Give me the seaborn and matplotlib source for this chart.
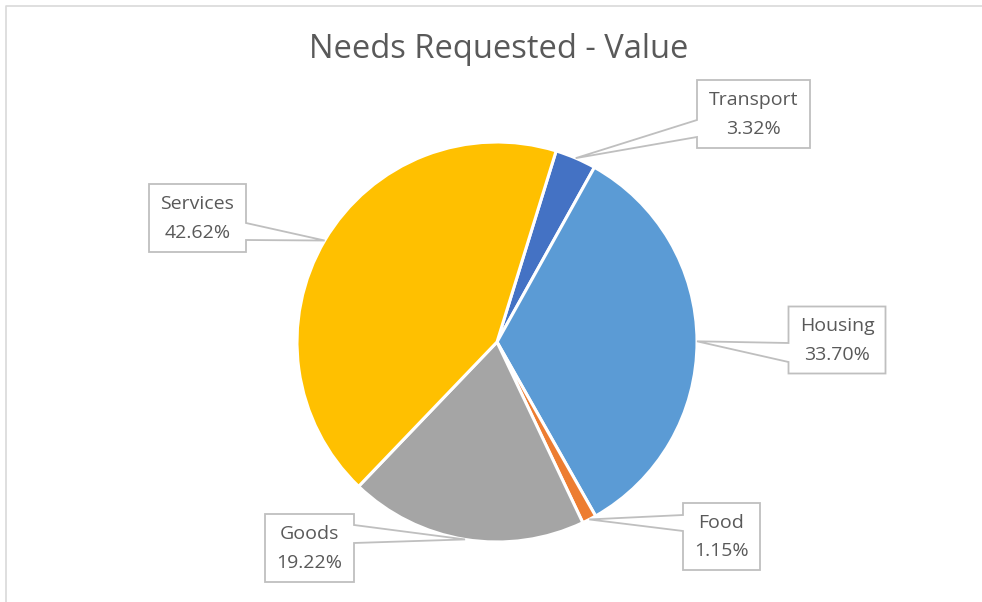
import numpy as np
import matplotlib
matplotlib.use("Agg")
import matplotlib.pyplot as plt
import seaborn as sns
from matplotlib.patches import Polygon

# data (clockwise from the top of the pie)
needs = ["Transport", "Housing", "Food", "Goods", "Services"]
share = [3.32, 33.70, 1.15, 19.22, 42.62]
colors = ["#4472C4", "#5B9BD5", "#ED7D31", "#A5A5A5", "#FFC000"]

sns.set_theme(style="white")
plt.rcParams['font.family'] = ['Open Sans', 'DejaVu Sans']

W, H = 982, 602
fig = plt.figure(figsize=(W / 100, H / 100), dpi=100)
ax = fig.add_axes([0, 0, 1, 1])

# pie in pixel units (y measured from the bottom)
cx, cy, r = 497, H - 342, 200
wedges, _ = ax.pie(share, colors=colors, startangle=72.8, counterclock=False,
                   center=(cx, cy), radius=r, frame=True,
                   wedgeprops=dict(edgecolor="white", linewidth=2.2))
ax.set_xlim(0, W)
ax.set_ylim(0, H)
ax.set_aspect("equal")
ax.axis("off")

# chart frame
ax.plot([6, 6, W + 5], [-5, H - 6, H - 6], color="#D9D9D9", lw=1.2, clip_on=False)

ax.text(499, H - 50, "Needs Requested - Value", ha="center", va="center",
        fontsize=23.5, color="#595959")

# callout boxes: centre x, centre y (pixels from top), width, height, side, y1, y2
boxes = {
    "Transport": (753.5, 114, 113, 68, "left", 120, 137),
    "Housing": (837, 340, 97, 67, "left", 343, 362),
    "Food": (721.5, 536.5, 77, 67, "left", 515, 531),
    "Goods": (309.5, 548, 89, 68, "right", 525, 543),
    "Services": (197.5, 218, 97, 68, "right", 223, 240),
}

for w, name, val in zip(wedges, needs, share):
    mid = np.deg2rad((w.theta1 + w.theta2) / 2)
    px, py = cx + r * np.cos(mid), cy + r * np.sin(mid)
    bx, by, bw, bh, side, y1, y2 = boxes[name]
    left, right = bx - bw / 2, bx + bw / 2
    top, bot = H - (by - bh / 2), H - (by + bh / 2)
    if side == "left":
        pts = [(left, top), (right, top), (right, bot), (left, bot),
               (left, H - y2), (px, py), (left, H - y1)]
    else:
        pts = [(left, top), (right, top), (right, H - y1), (px, py),
               (right, H - y2), (right, bot), (left, bot)]
    ax.add_patch(Polygon(pts, closed=True, facecolor="white",
                         edgecolor="#BFBFBF", lw=1.3, zorder=5))
    ax.text(bx, H - by + 14, name, ha="center", va="center",
            fontsize=14, color="#595959", zorder=6)
    ax.text(bx, H - by - 15, f"{val:.2f}%", ha="center", va="center",
            fontsize=14, color="#595959", zorder=6)

fig.savefig("out.png", dpi=100, facecolor="white")
